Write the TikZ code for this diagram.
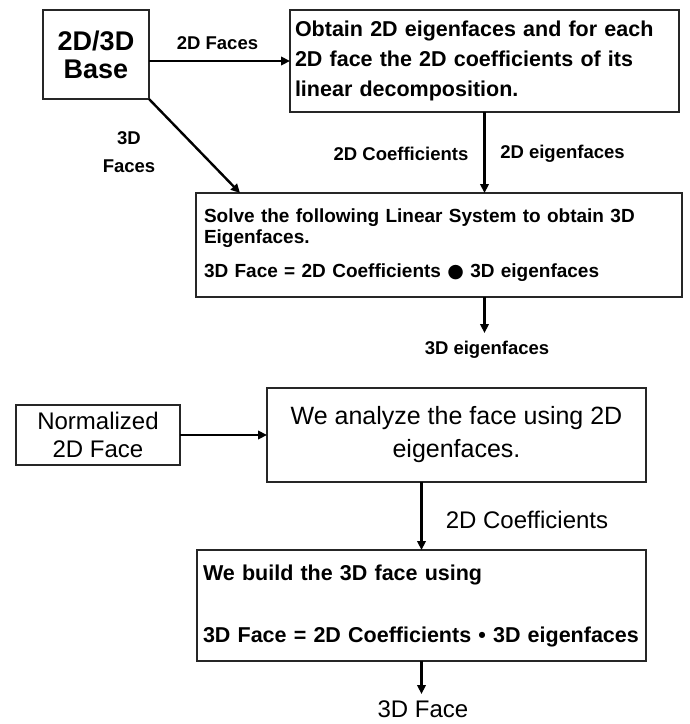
\documentclass[tikz,border=0pt]{standalone}
\usepackage{fontspec}
\setmainfont{Liberation Sans}
\newfontfamily\symfont{DejaVu Sans}
\usetikzlibrary{arrows.meta}
\begin{document}
\begin{tikzpicture}[x=1pt,y=-1pt,
  box/.style={draw=black!85, line width=1.3pt, inner sep=0pt, outer sep=0pt},
  arr/.style={line width=2.4pt, -{Triangle[length=9pt,width=8.5pt]}},
  lbl/.style={font=\bfseries\fontsize{18.5}{28}\selectfont, align=center, inner sep=0pt},
  reglbl/.style={font=\fontsize{24}{28}\selectfont, inner sep=0pt}]
\useasboundingbox (0,0) rectangle (690,724);

% top half
\node[box, minimum width=106pt, minimum height=89pt, align=center,
      font=\bfseries\fontsize{27}{28}\selectfont] (base) at (96,54.5) {2D/3D\\Base};
\node[box, anchor=north west, text width=379pt, inner xsep=5pt, minimum height=102pt,
      align=left, font=\bfseries\fontsize{21.5}{30}\selectfont] (obtain) at (290,10)
  {Obtain 2D eigenfaces and for each\\2D face the 2D coefficients of its\\linear decomposition.};
\node[box, anchor=north west, text width=470pt, inner xsep=8pt, minimum height=104pt,
      align=left, font=\bfseries\fontsize{19}{21}\selectfont] (solve) at (196,193)
  {Solve the following Linear System to obtain 3D\\Eigenfaces.\\[13pt]3D Face = 2D Coefficients {\symfont ●} 3D eigenfaces};

\node[lbl] (l2df) at (217.5,43) {2D Faces};
\node[lbl] (l3df) at (129,152) {3D\\Faces};
\node[lbl] (l2dc) at (401,154) {2D Coefficients};
\node[lbl] (l2de) at (562.5,154) {2D eigenfaces};
\node[lbl] (e3) at (487,350) {3D eigenfaces};
\coordinate (e3in) at (484.5,333);

\draw[arr] (base.east |- obtain.west) -- (obtain.west);
\draw[arr] (base.south east) -- ([xshift=44pt]solve.north west);
\draw[arr] (obtain.south) -- (obtain.south |- solve.north);
\draw[arr] (obtain.south |- solve.south) -- (e3in);

% bottom half
\node[box, minimum width=164pt, minimum height=60pt, align=center,
      font=\fontsize{24}{28}\selectfont] (norm) at (98,435) {Normalized\\2D Face};
\node[box, minimum width=379pt, minimum height=94pt, align=center,
      font=\fontsize{25}{33}\selectfont] (analyze) at (456.5,435) {We analyze the face using 2D\\eigenfaces.};
\node[box, anchor=north west, text width=437pt, inner xsep=6pt, minimum height=111pt,
      align=left, font=\bfseries\fontsize{21.5}{24}\selectfont] (build) at (197,550)
  {We build the 3D face using\\[38pt]3D Face = 2D Coefficients • 3D eigenfaces};

\node[reglbl] (l2dc2) at (527,520) {2D Coefficients};
\node[reglbl] (face3) at (423,709) {3D Face};
\coordinate (f3in) at (421.5,694);

\draw[arr] (norm.east) -- (analyze.west);
\draw[arr] (build.north |- analyze.south) -- (build.north);
\draw[arr] (build.south) -- (f3in);
\end{tikzpicture}
\end{document}
